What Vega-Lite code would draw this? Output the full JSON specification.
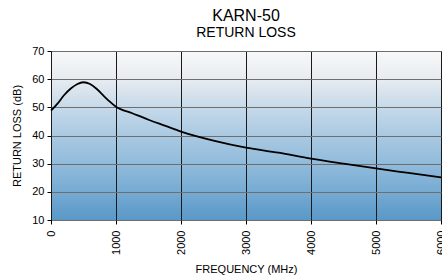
{
  "$schema": "https://vega.github.io/schema/vega-lite/v6.json",
  "width": 390,
  "height": 169,
  "autosize": {"type": "none"},
  "padding": {"left": 51, "top": 51, "right": 1, "bottom": 58},
  "background": "white",
  "title": {
    "text": "KARN-50",
    "subtitle": "RETURN LOSS",
    "font": "Liberation Sans",
    "subtitleFont": "Liberation Sans",
    "fontSize": 16,
    "subtitleFontSize": 14,
    "fontWeight": "normal",
    "color": "#000",
    "subtitleColor": "#000",
    "anchor": "middle",
    "offset": 5,
    "subtitlePadding": 2
  },
  "config": {
    "view": {
      "stroke": "#222",
      "strokeWidth": 1,
      "fill": {
        "gradient": "linear",
        "x1": 0, "y1": 0, "x2": 0, "y2": 1,
        "stops": [
          {"offset": 0, "color": "#f8f8f8"},
          {"offset": 0.17, "color": "#e6ebf0"},
          {"offset": 0.33, "color": "#c6d9ea"},
          {"offset": 0.5, "color": "#a9c9e2"},
          {"offset": 0.75, "color": "#84b3d7"},
          {"offset": 1, "color": "#5898c8"}
        ]
      }
    },
    "axis": {
      "labelFont": "Liberation Sans",
      "titleFont": "Liberation Sans",
      "labelFontSize": 11,
      "titleFontSize": 11,
      "titleFontWeight": "normal",
      "labelColor": "#000",
      "titleColor": "#000",
      "tickColor": "#000",
      "tickSize": 4,
      "domain": false
    }
  },
  "data": {
    "values": [
      {"f": 0, "rl": 48.8},
      {"f": 100, "rl": 51.3},
      {"f": 200, "rl": 54.3},
      {"f": 300, "rl": 56.6},
      {"f": 400, "rl": 58.2},
      {"f": 500, "rl": 58.9},
      {"f": 600, "rl": 58.3},
      {"f": 700, "rl": 56.6},
      {"f": 800, "rl": 54.3},
      {"f": 900, "rl": 52.1},
      {"f": 1000, "rl": 50.2},
      {"f": 1250, "rl": 47.9},
      {"f": 1500, "rl": 45.6},
      {"f": 1750, "rl": 43.5},
      {"f": 2000, "rl": 41.4},
      {"f": 2500, "rl": 38.2},
      {"f": 3000, "rl": 35.7},
      {"f": 3500, "rl": 33.9},
      {"f": 4000, "rl": 31.8},
      {"f": 4500, "rl": 30.0},
      {"f": 5000, "rl": 28.3},
      {"f": 5500, "rl": 26.7},
      {"f": 6000, "rl": 25.1}
    ]
  },
  "mark": {"type": "line", "color": "#000", "strokeWidth": 1.8, "interpolate": "monotone"},
  "encoding": {
    "x": {
      "field": "f",
      "type": "quantitative",
      "scale": {"domain": [0, 6000], "nice": false},
      "axis": {
        "title": "FREQUENCY (MHz)",
        "values": [0, 1000, 2000, 3000, 4000, 5000, 6000],
        "format": "d",
        "labelAngle": -90,
        "labelAlign": "right",
        "labelBaseline": "middle",
        "labelPadding": 6,
        "labelOverlap": false,
        "labelFlush": false,
        "gridColor": "#1a1a1a",
        "gridOpacity": 1,
        "gridWidth": 1,
        "titlePadding": 9
      }
    },
    "y": {
      "field": "rl",
      "type": "quantitative",
      "scale": {"domain": [10, 70], "nice": false},
      "axis": {
        "title": "RETURN LOSS (dB)",
        "values": [10, 20, 30, 40, 50, 60, 70],
        "labelPadding": 3,
        "gridColor": "#6e6e6e",
        "gridOpacity": 1,
        "gridWidth": 1,
        "titlePadding": 9
      }
    }
  }
}
